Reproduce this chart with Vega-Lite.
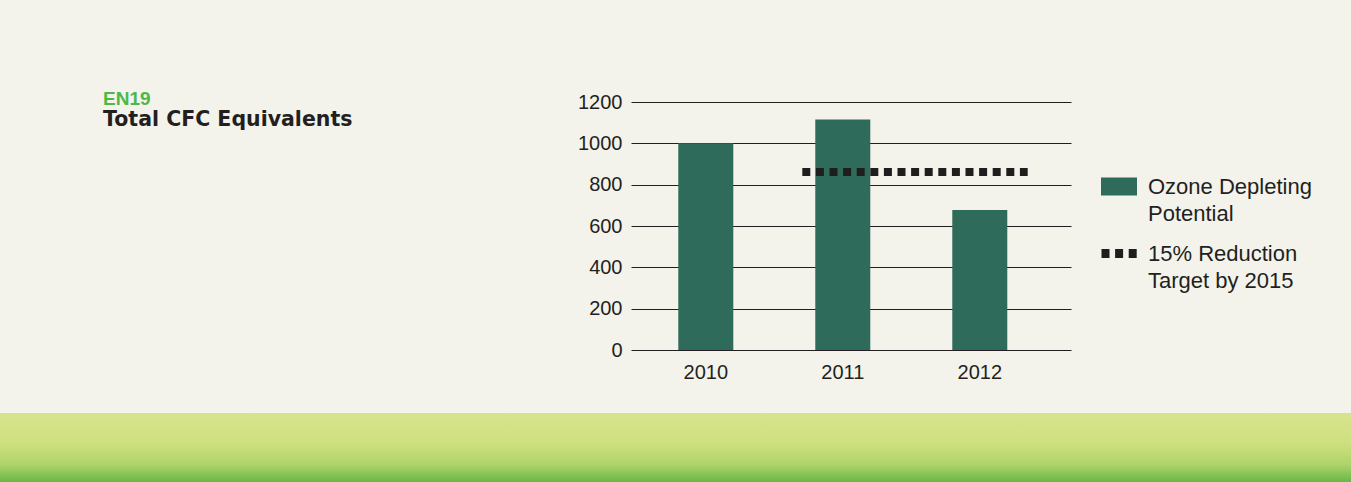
{
  "$schema": "https://vega.github.io/schema/vega-lite/v6.json",
  "background": "#f3f3ec",
  "padding": {"top": 89, "left": 0, "right": 0, "bottom": 0},
  "config": {
    "view": {"stroke": null},
    "font": "Liberation Sans"
  },
  "spacing": 31,
  "vconcat": [
    {
      "bounds": "flush",
      "spacing": 0,
      "hconcat": [
        {
          "width": 631,
          "height": 248,
          "title": {
            "text": "EN19",
            "subtitle": "Total CFC Equivalents",
            "anchor": "start",
            "frame": "group",
            "orient": "top",
            "offset": 0,
            "dx": 103,
            "dy": 28,
            "font": "Liberation Sans",
            "fontSize": 19,
            "fontWeight": "bold",
            "color": "#4db848",
            "subtitleFont": "DejaVu Sans",
            "subtitleFontSize": 20.5,
            "subtitleFontWeight": "bold",
            "subtitleColor": "#231f20",
            "subtitlePadding": 1
          },
          "data": {"values": []},
          "mark": {"type": "rect"},
          "encoding": {}
        },
        {
          "width": 440,
          "height": 248,
          "layer": [
            {
              "data": {
                "values": [
                  {"year": "2010", "value": 1000, "series": "Ozone Depleting Potential"},
                  {"year": "2011", "value": 1115, "series": "Ozone Depleting Potential"},
                  {"year": "2012", "value": 678, "series": "Ozone Depleting Potential"}
                ]
              },
              "mark": {"type": "bar"},
              "encoding": {
                "x": {
                  "field": "year",
                  "type": "nominal",
                  "scale": {"paddingInner": 0.5985, "paddingOuter": 0.4051, "align": 0.426},
                  "axis": {
                    "title": null,
                    "domain": false,
                    "ticks": false,
                    "labelAngle": 0,
                    "labelFont": "Liberation Sans",
                    "labelFontSize": 20,
                    "labelColor": "#231f20",
                    "labelPadding": 12
                  }
                },
                "y": {
                  "field": "value",
                  "type": "quantitative",
                  "scale": {"domain": [0, 1200]},
                  "axis": {
                    "title": null,
                    "values": [0, 200, 400, 600, 800, 1000, 1200],
                    "format": "d",
                    "domain": false,
                    "ticks": false,
                    "grid": true,
                    "gridColor": "#231f20",
                    "gridOpacity": 1,
                    "gridWidth": 1,
                    "labelFont": "Liberation Sans",
                    "labelFontSize": 20,
                    "labelColor": "#231f20",
                    "labelPadding": 9
                  }
                },
                "color": {
                  "field": "series",
                  "type": "nominal",
                  "scale": {"range": ["#2e6b5a"]},
                  "legend": {
                    "orient": "none",
                    "legendX": 1101,
                    "legendY": 66.5,
                    "title": null,
                    "symbolType": "M-1,-0.5H1V0.5H-1Z",
                    "symbolSize": 1296,
                    "symbolStrokeWidth": 0,
                    "symbolOpacity": 1,
                    "labelFont": "Liberation Sans",
                    "labelFontSize": 22,
                    "labelColor": "#231f20",
                    "labelOffset": 11,
                    "labelBaseline": "alphabetic",
                    "labelLimit": 300,
                    "labelExpr": "['Ozone Depleting', 'Potential']",
                    "encode": {"labels": {"update": {"lineHeight": {"value": 27}, "dy": {"value": 7}}}}
                  }
                }
              }
            },
            {
              "data": {
                "values": [
                  {"start": "2011", "end": "2012", "target": 861, "label": "15% Reduction Target by 2015"}
                ]
              },
              "mark": {"type": "rule", "color": "#1e1e1e", "strokeWidth": 8},
              "encoding": {
                "x": {"field": "start", "type": "nominal", "bandPosition": -0.236},
                "x2": {"field": "end", "bandPosition": 1.371},
                "y": {"field": "target", "type": "quantitative"},
                "strokeDash": {
                  "field": "label",
                  "type": "nominal",
                  "scale": {"range": [[8, 5.6]]},
                  "legend": {
                    "orient": "none",
                    "legendX": 1097,
                    "legendY": 129,
                    "title": null,
                    "symbolType": "stroke",
                    "symbolSize": 1296,
                    "symbolStrokeWidth": 9,
                    "symbolStrokeColor": "#1e1e1e",
                    "labelFont": "Liberation Sans",
                    "labelFontSize": 22,
                    "labelColor": "#231f20",
                    "labelOffset": 6,
                    "labelBaseline": "alphabetic",
                    "labelLimit": 300,
                    "labelExpr": "['15% Reduction', 'Target by 2015']",
                    "encode": {
                      "symbols": {"update": {"strokeDash": {"value": [9, 4.5]}, "stroke": {"value": "#1e1e1e"}}},
                      "labels": {"update": {"lineHeight": {"value": 27}, "dy": {"value": 7}}}
                    }
                  }
                }
              }
            }
          ]
        }
      ]
    },
    {
      "width": 1351,
      "height": 69,
      "data": {"values": [{"band": "footer"}]},
      "mark": {
        "type": "rect",
        "color": {
          "gradient": "linear",
          "x1": 0, "y1": 0, "x2": 0, "y2": 1,
          "stops": [
            {"offset": 0, "color": "#d8e48c"},
            {"offset": 0.45, "color": "#cde07e"},
            {"offset": 0.75, "color": "#aed36a"},
            {"offset": 1, "color": "#68b846"}
          ]
        }
      },
      "encoding": {}
    }
  ]
}
